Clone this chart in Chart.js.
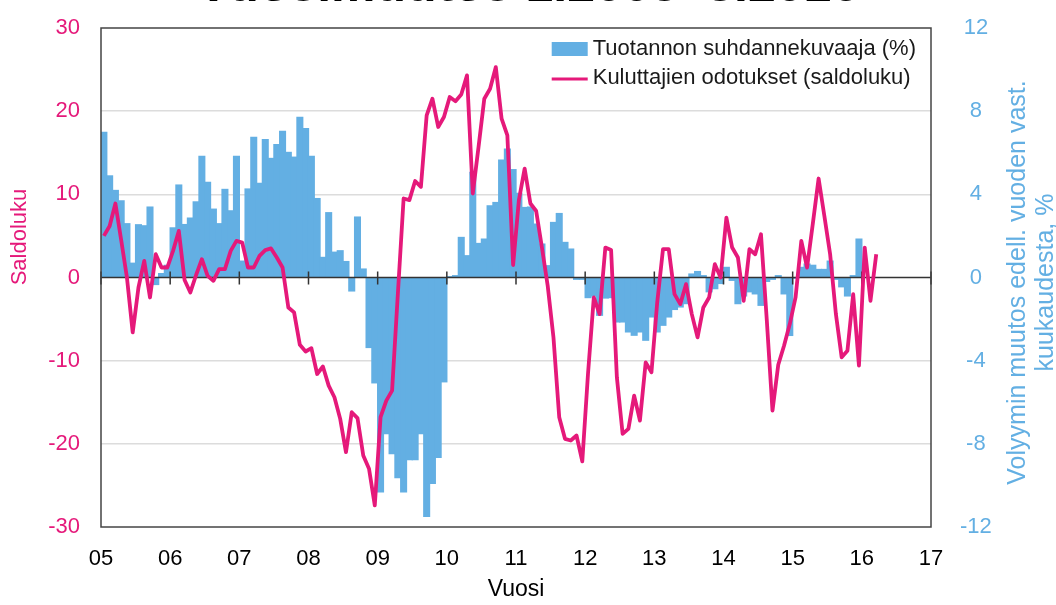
<!DOCTYPE html>
<html>
<head>
<meta charset="utf-8">
<script src="https://cdn.jsdelivr.net/npm/chart.js@4.4.1/dist/chart.umd.min.js"></script>
<style>
  html, body { margin: 0; padding: 0; background: #fff; }
  #wrap { width: 1056px; height: 605px; overflow: hidden; position: relative; }
  #mycanvas { display: block; margin-top: -60px; }
</style>
</head>
<body>
<div id="wrap"><canvas id="mycanvas" width="1056" height="665"></canvas></div>
<script>
// monthly values, 1.2005 -> 
const startYear = 2005;
const yearTicks = ['05','06','07','08','09','10','11','12','13','14','15','16','17'];

// Tuotannon suhdannekuvaaja (%), right axis, 1.2005 - 12.2015
const barValues = [
  7.0, 4.9, 4.2, 3.7, 2.6, 0.7, 2.55, 2.5, 3.4, -0.35, 0.2, 0.6,          // 2005
  2.4, 4.46, 2.56, 2.87, 3.65, 5.84, 4.59, 3.3, 2.6, 4.25, 3.22, 5.84,     // 2006
  0.8, 4.27, 6.75, 4.54, 6.65, 5.74, 6.41, 7.04, 6.03, 5.8, 7.71, 7.18,    // 2007
  5.84, 3.81, 0.98, 3.13, 1.23, 1.3, 0.78, -0.66, 2.92, 0.42, -3.38, -5.08, // 2008
  -10.33, -7.52, -8.48, -9.64, -10.33, -8.77, -8.77, -7.52, -11.5, -9.92, -8.67, -5.03, // 2009
  0.05, 0.1, 1.94, 1.06, 5.07, 1.65, 1.86, 3.46, 3.62, 5.66, 6.19, 5.2,    // 2010
  4.06, 3.38, 3.4, 2.58, 1.62, 0.58, 2.66, 3.09, 1.7, 1.38, -0.1, -0.1,    // 2011
  -0.98, -0.9, -1.83, -1.0, -0.98, -2.15, -2.15, -2.63, -2.79, -2.63, -3.03, -1.91, // 2012
  -2.63, -2.31, -1.91, -1.55, -1.43, -1.27, 0.18, 0.3, 0.1, -0.7, -0.55, -0.3, // 2013
  0.5, -0.15, -1.27, -0.9, -0.7, -0.8, -1.35, -0.2, -0.1, 0.1, -0.8, -2.8, // 2014
  -0.05, 0.5, 0.66, 0.6, 0.4, 0.4, 0.8, -0.1, -0.46, -0.9, 0.1, 1.86       // 2015
];

// Kuluttajien odotukset (saldoluku), left axis, 1.2005 - 3.2016
const lineValues = [
  5.0, 6.2, 8.9, 4.5, 0.0, -6.6, -1.2, 2.0, -2.4, 2.8, 1.2, 1.2,           // 2005
  3.2, 5.6, -0.3, -1.8, 0.3, 2.2, 0.2, -0.4, 1.0, 1.0, 3.2, 4.4,           // 2006
  4.2, 1.2, 1.2, 2.6, 3.3, 3.5, 2.4, 1.2, -3.6, -4.2, -8.1, -8.9,          // 2007
  -8.5, -11.6, -10.7, -13.0, -14.4, -17.0, -21.0, -16.2, -16.9, -21.4, -23.0, -27.4, // 2008
  -16.8, -14.8, -13.6, -2.0, 9.5, 9.3, 11.6, 10.9, 19.5, 21.5, 18.1, 19.3, // 2009
  21.7, 21.2, 22.0, 24.3, 10.1, 15.7, 21.5, 22.7, 25.3, 19.1, 17.1, 1.5,   // 2010
  9.3, 13.1, 8.9, 8.0, 3.6, -1.0, -7.2, -16.8, -19.4, -19.6, -19.0, -22.1, // 2011
  -11.5, -2.4, -4.4, 3.6, 3.3, -12.0, -18.8, -18.2, -14.2, -17.2, -10.2, -11.4, // 2012
  -3.0, 3.4, 3.4, -2.0, -3.2, -0.8, -4.4, -7.2, -3.6, -2.4, 1.6, 0.0,      // 2013
  7.2, 3.6, 2.4, -2.8, 3.4, 2.8, 5.2, -5.0, -16.0, -10.5, -8.2, -5.6,      // 2014
  -2.4, 4.4, 1.2, 6.5, 11.9, 7.4, 2.8, -4.4, -9.6, -8.8, -2.0, -10.6,      // 2015
  3.6, -2.8, 2.8                                                           // 2016
];

const pink = '#E5197A';
const blue = '#63AFE3';
const FONT = "'Liberation Sans', Arial, sans-serif";

// month index -> position on the year axis (middle of the month)
function monthPos(i) { return startYear + (i + 0.5) / 12; }

const barData = barValues.map((v, i) => ({x: monthPos(i), y: v}));
const lineData = lineValues.map((v, i) => ({x: monthPos(i), y: v}));

const decor = {
  id: 'decor',
  afterDatasetDraw(chart, args) {
    if (args.index !== 0) return;
    const ctx = chart.ctx, a = chart.chartArea;
    const x = chart.scales.x, y = chart.scales.y;
    const y0 = y.getPixelForValue(0);
    ctx.save();
    ctx.strokeStyle = '#333';
    ctx.lineWidth = 1.5;
    ctx.beginPath();
    ctx.moveTo(a.left, y0);
    ctx.lineTo(a.right, y0);
    for (let i = 0; i < yearTicks.length; i++) {
      const px = x.getPixelForValue(startYear + i);
      ctx.moveTo(px, y0 - 6);
      ctx.lineTo(px, y0 + 7);
    }
    ctx.stroke();
    ctx.restore();
  },
  afterDraw(chart) {
    const ctx = chart.ctx, a = chart.chartArea;
    ctx.save();
    // frame
    ctx.strokeStyle = '#444';
    ctx.lineWidth = 1.5;
    ctx.strokeRect(a.left, a.top, a.right - a.left, a.bottom - a.top);

    // legend
    const ds = chart.data.datasets;
    ctx.font = '22px ' + FONT;
    ctx.textBaseline = 'middle';
    ctx.textAlign = 'left';
    const w = Math.max(...ds.map(d => ctx.measureText(d.label).width));
    const lx = a.right - 15 - w - 41;
    ds.forEach((d, i) => {
      const ly = a.top + 21 + i * 29;
      if (d.type === 'bar') {
        ctx.fillStyle = d.backgroundColor;
        ctx.fillRect(lx, ly - 7, 36, 14);
      } else {
        ctx.strokeStyle = d.borderColor;
        ctx.lineWidth = 3;
        ctx.beginPath();
        ctx.moveTo(lx, ly + 1);
        ctx.lineTo(lx + 36, ly + 1);
        ctx.stroke();
      }
      ctx.fillStyle = '#1a1a1a';
      ctx.fillText(d.label, lx + 41, ly);
    });

    // left axis title
    ctx.fillStyle = pink;
    ctx.textAlign = 'center';
    ctx.save();
    ctx.translate(a.left - 81, a.top + 209);
    ctx.rotate(-Math.PI / 2);
    ctx.fillText('Saldoluku', 0, 0);
    ctx.restore();

    // right axis title
    ctx.fillStyle = blue;
    ctx.font = '25px ' + FONT;
    ctx.save();
    ctx.translate(a.right, (a.top + a.bottom) / 2 + 5);
    ctx.rotate(-Math.PI / 2);
    ctx.fillText('Volyymin muutos edell. vuoden vast.', 0, 87);
    ctx.fillText('kuukaudesta, %', 0, 115);
    ctx.restore();

    // x axis title
    ctx.fillStyle = '#000';
    ctx.font = '23px ' + FONT;
    ctx.fillText('Vuosi', (a.left + a.right) / 2, a.bottom + 63);
    ctx.restore();
  }
};

const data = {
  datasets: [
    {
      type: 'bar',
      label: 'Tuotannon suhdannekuvaaja (%)',
      data: barData,
      yAxisID: 'y2',
      backgroundColor: blue,
      borderWidth: 0,
      barThickness: 6.4,
      order: 2
    },
    {
      type: 'line',
      label: 'Kuluttajien odotukset (saldoluku)',
      data: lineData,
      yAxisID: 'y',
      borderColor: pink,
      backgroundColor: pink,
      borderWidth: 3.8,
      borderJoinStyle: 'round',
      pointRadius: 0,
      tension: 0,
      order: 1
    }
  ]
};

const config = {
  data,
  options: {
    responsive: false,
    animation: false,
    devicePixelRatio: 1,
    layout: { padding: 0 },
    plugins: {
      legend: { display: false },
      tooltip: { enabled: false },
      title: {
        display: true,
        text: 'Vuosimuutos 1.2005–3.2016',
        color: '#000',
        font: { family: FONT, size: 50, weight: 'bold', lineHeight: 1.2 },
        padding: { top: 17, bottom: 11 }
      }
    },
    scales: {
      x: {
        type: 'linear',
        offset: false,
        min: startYear,
        max: startYear + yearTicks.length - 1,
        grid: { display: false, offset: false },
        border: { display: false },
        ticks: {
          stepSize: 1,
          padding: 11,
          color: '#000',
          font: { family: FONT, size: 22 },
          callback: (v) => yearTicks[v - startYear]
        },
        afterFit: (s) => { s.height = 78; }
      },
      y: {
        position: 'left',
        min: -30, max: 30,
        border: { display: false },
        grid: {
          drawTicks: false,
          lineWidth: 1.5,
          color: (c) => (c.tick.value === 0 || Math.abs(c.tick.value) === 30) ? 'rgba(0,0,0,0)' : '#dcdcdc'
        },
        ticks: { stepSize: 10, padding: 21, color: pink, font: { family: FONT, size: 22 } },
        afterFit: (s) => { s.width = 101; }
      },
      y2: {
        position: 'right',
        min: -12, max: 12,
        border: { display: false },
        grid: { display: false },
        ticks: { stepSize: 4, padding: 21, crossAlign: 'center', color: blue, font: { family: FONT, size: 22 } },
        afterFit: (s) => { s.width = 125; }
      }
    }
  },
  plugins: [decor]
};

const ctx = document.getElementById('mycanvas');
const myChart = new Chart(ctx, config);
</script>
</body>
</html>
